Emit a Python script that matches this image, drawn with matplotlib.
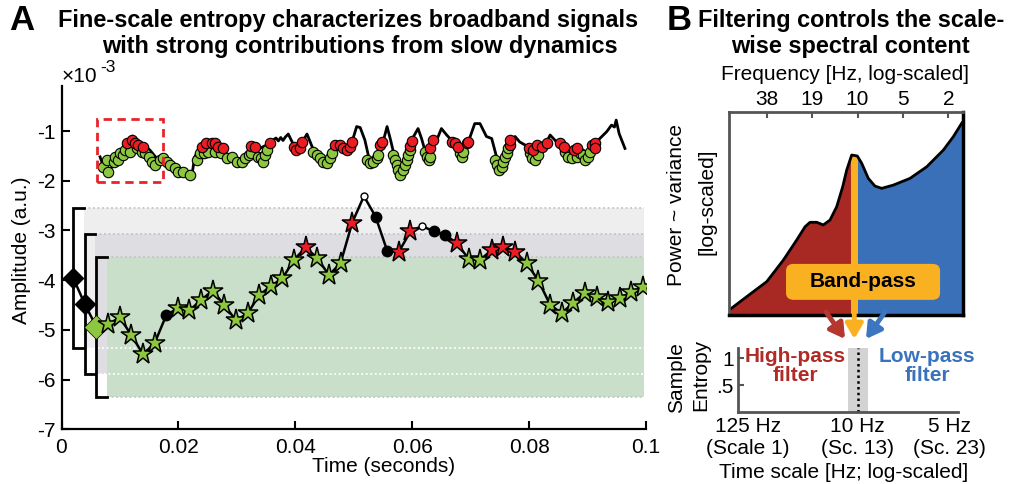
import numpy as np
import matplotlib.pyplot as plt
from matplotlib.patches import Rectangle, FancyBboxPatch, FancyArrowPatch

plt.rcParams['font.family'] = ['Liberation Sans', 'DejaVu Sans']
plt.rcParams['axes.unicode_minus'] = False

W, H = 1016, 484


def fp(x, y):
    # pixel (from top-left) -> figure fraction
    return x / W, 1 - y / H


# ---- Panel A: long trace (x10^-3) ----
top_t = [0.0066, 0.0077, 0.0094, 0.0112, 0.0122, 0.0129, 0.0140, 0.0151, 0.0163, 0.0174,
         0.0186, 0.0197, 0.0208, 0.0223, 0.0228, 0.0237, 0.0248, 0.0266, 0.0277, 0.0288,
         0.0305, 0.0323, 0.0334, 0.0351, 0.0362, 0.0367, 0.0371, 0.0375, 0.0379, 0.0383,
         0.0388, 0.0397, 0.0408, 0.0414, 0.0420, 0.0431, 0.0439, 0.0454, 0.0465, 0.0482,
         0.0497, 0.0505, 0.0511, 0.0519, 0.0528, 0.0542, 0.0551, 0.0557, 0.0563, 0.0571,
         0.0579, 0.0591, 0.0599, 0.0610, 0.0616, 0.0625, 0.0633, 0.0642, 0.0650, 0.0659,
         0.0670, 0.0685, 0.0696, 0.0707, 0.0716, 0.0727, 0.0736, 0.0745, 0.0750, 0.0759,
         0.0767, 0.0776, 0.0784, 0.0793, 0.0807, 0.0819, 0.0830, 0.0836, 0.0847, 0.0864,
         0.0881, 0.0899, 0.0913, 0.0921, 0.0933, 0.0941, 0.0946, 0.0949, 0.0954, 0.0964]
top_y = [-1.52, -1.89, -1.58, -1.35, -1.10, -1.25, -1.28, -1.38, -1.55, -1.52,
         -1.62, -1.72, -1.82, -1.89, -1.52, -1.32, -1.25, -1.28, -1.38, -1.55,
         -1.62, -1.55, -1.38, -1.28, -1.18, -1.14, -1.20, -1.13, -1.19, -1.12,
         -1.06, -1.28, -1.35, -1.18, -1.06, -1.38, -1.52, -1.65, -1.28, -1.35,
         -1.22, -0.91, -0.93, -1.18, -1.65, -1.48, -1.18, -0.91, -1.18, -1.58,
         -1.95, -1.58, -1.18, -0.95, -1.15, -1.52, -1.35, -1.18, -0.95, -1.08,
         -1.22, -1.48, -1.22, -0.85, -0.85, -1.11, -1.15, -1.55, -1.78, -1.55,
         -1.18, -1.11, -1.22, -1.28, -1.58, -1.32, -1.22, -1.08, -1.22, -1.52,
         -1.45, -1.58, -1.28, -1.15, -1.01, -0.88, -0.92, -0.78, -1.05, -1.35]

green_t = [0.00715, 0.0080, 0.0077, 0.0089, 0.0092, 0.0097, 0.0100, 0.0106, 0.0109, 0.0117,
           0.0129, 0.0137, 0.0143, 0.0149, 0.0154, 0.0160, 0.0169, 0.0174, 0.0180, 0.0186,
           0.0194, 0.0200, 0.0208, 0.0220, 0.0231, 0.0237, 0.0243, 0.0250, 0.0263, 0.0273,
           0.0283, 0.0291, 0.0300, 0.0308, 0.0314, 0.0320, 0.0325, 0.0337, 0.0342, 0.0345,
           0.0348, 0.0351, 0.0431, 0.0437, 0.0442, 0.0448, 0.0454, 0.0459, 0.0462, 0.0522,
           0.0528, 0.0533, 0.0539, 0.0542, 0.0568, 0.0571, 0.0574, 0.0576, 0.0579, 0.0585,
           0.0588, 0.0591, 0.0593, 0.0596, 0.0622, 0.0625, 0.0628, 0.0630, 0.0682, 0.0685,
           0.0687, 0.0742, 0.0745, 0.0748, 0.0753, 0.0756, 0.0759, 0.0762, 0.0764, 0.0802,
           0.0805, 0.0810, 0.0816, 0.0862, 0.0867, 0.0873, 0.0882, 0.0887, 0.0893, 0.0896,
           0.0901, 0.0904]
green_y = [-1.72, -1.82, -1.58, -1.62, -1.52, -1.58, -1.45, -1.48, -1.38, -1.42,
           -1.35, -1.42, -1.45, -1.52, -1.62, -1.68, -1.58, -1.55, -1.62, -1.68,
           -1.75, -1.82, -1.82, -1.89, -1.58, -1.45, -1.45, -1.42, -1.42, -1.45,
           -1.55, -1.52, -1.62, -1.62, -1.55, -1.48, -1.45, -1.52, -1.55, -1.62,
           -1.48, -1.38, -1.42, -1.48, -1.55, -1.62, -1.65, -1.55, -1.45, -1.58,
           -1.65, -1.62, -1.55, -1.48, -1.48, -1.58, -1.68, -1.78, -1.89, -1.78,
           -1.68, -1.58, -1.48, -1.38, -1.42, -1.52, -1.58, -1.52, -1.45, -1.52,
           -1.42, -1.58, -1.68, -1.78, -1.72, -1.62, -1.52, -1.45, -1.35, -1.45,
           -1.55, -1.58, -1.48, -1.42, -1.52, -1.55, -1.52, -1.45, -1.48, -1.58,
           -1.52, -1.42]
red_t = [0.0112, 0.0120, 0.0126, 0.0131, 0.0140, 0.0240, 0.0248, 0.0257, 0.0263, 0.0268,
         0.0277, 0.0325, 0.0331, 0.0357, 0.0397, 0.0402, 0.0408, 0.0411, 0.0468, 0.0476,
         0.0482, 0.0488, 0.0494, 0.0497, 0.0545, 0.0548, 0.0597, 0.0600, 0.0630, 0.0635,
         0.0668, 0.0673, 0.0679, 0.0693, 0.0696, 0.0767, 0.0767, 0.0799, 0.0807, 0.0813,
         0.0822, 0.0830, 0.0853, 0.0859, 0.0876, 0.0882, 0.0907, 0.0913, 0.0913]
red_y = [-1.25, -1.18, -1.25, -1.28, -1.32, -1.32, -1.25, -1.25, -1.25, -1.32,
         -1.35, -1.30, -1.32, -1.25, -1.32, -1.38, -1.35, -1.22, -1.28, -1.28,
         -1.35, -1.38, -1.32, -1.22, -1.28, -1.22, -1.30, -1.20, -1.35, -1.19,
         -1.22, -1.25, -1.32, -1.25, -1.22, -1.28, -1.18, -1.35, -1.38, -1.28,
         -1.32, -1.25, -1.25, -1.32, -1.38, -1.35, -1.28, -1.25, -1.35]

# ---- Panel A: zoomed samples ----
dt = 0.00199
low_y = [-3.95, -4.48, -4.94, -4.89, -4.75, -5.10, -5.49, -5.27, -4.71, -4.56,
         -4.61, -4.40, -4.21, -4.50, -4.81, -4.67, -4.30, -4.12, -3.96, -3.59,
         -3.34, -3.56, -3.90, -3.65, -2.84, -2.31, -2.72, -3.41, -3.43, -3.02,
         -2.91, -3.02, -3.09, -3.26, -3.57, -3.59, -3.39, -3.33, -3.43, -3.66,
         -4.01, -4.49, -4.67, -4.45, -4.26, -4.34, -4.43, -4.36, -4.24, -4.13]
low_kind = list('DDGgggggkggggggggggg' + 'rgggrokkrrokkrggrrr' + 'ggggggggggg')
low_t = dt * np.arange(1, len(low_y) + 1)
tol_r = 1.41

# ---- Panel B: spectrum ----
spec_x = [0.176, 0.559, 1.0, 1.366, 1.661, 1.844, 1.954, 2.101, 2.247, 2.394, 2.542, 2.674,
          2.762, 2.872, 2.996, 3.093, 3.238, 3.385, 3.533, 3.789, 4.156, 4.524, 4.890, 5.110, 5.317]
spec_y = [0.025, 0.090, 0.164, 0.270, 0.369, 0.434, 0.456, 0.456, 0.443, 0.467, 0.533, 0.631,
          0.713, 0.787, 0.782, 0.746, 0.672, 0.634, 0.623, 0.639, 0.672, 0.729, 0.811, 0.877, 0.951]
freq_labels = ['38', '19', '10', '5', '2']
band_lo, band_hi = 2.857, 3.004
scale_ticks = [1, 13, 23]
scale_labels = ['125 Hz\n(Scale 1)', '10 Hz\n(Sc. 13)', '5 Hz\n(Sc. 23)']

GREEN = '#8dc63f'
RED = '#ec1c24'
FS = 15
TFS = 16.9

fig = plt.figure(figsize=(W / 100, H / 100), dpi=100)

# ================= Panel A =================
ax = fig.add_axes([61.5 / W, 1 - 429.3 / H, 584.5 / W, 343 / H])
ax.set_xlim(0, 0.1)
ax.set_ylim(-7, -0.1)
for s in ['top', 'right']:
    ax.spines[s].set_visible(False)
for s in ['left', 'bottom']:
    ax.spines[s].set_linewidth(1.6)
ax.tick_params(direction='in', length=6, width=1.5, labelsize=FS)
ax.tick_params(axis='x', pad=6)
ax.tick_params(axis='y', pad=4)
ax.set_xticks([0, 0.02, 0.04, 0.06, 0.08, 0.1])
ax.set_xticklabels(['0', '0.02', '0.04', '0.06', '0.08', '0.1'])
ax.set_yticks(range(-7, 0))
ax.set_yticklabels([str(v) for v in range(-7, 0)])

# tolerance bands and brackets
band_cols = ['#eeeeef', '#dedee2', '#c9dfca']
tick_len = 0.0018
x_end = 0.0997
for i in range(3):
    c, t0 = low_y[i], low_t[i]
    ax.fill_between([t0 + tick_len, x_end], c - tol_r, c + tol_r, color=band_cols[i], lw=0, zorder=0)
for i in range(3):
    c, t0 = low_y[i], low_t[i]
    ax.plot([t0 + tick_len, x_end], [c + tol_r] * 2, ls=(0, (1, 1.5)), color='#c4c4c4', lw=1.3, zorder=1)
    ax.plot([t0 + tick_len, x_end], [c - tol_r] * 2, ls=(0, (1, 1.5)),
            color='#c4c4c4' if i == 2 else 'white', lw=1.3, zorder=1)
    ax.plot([t0 + tick_len, t0, t0, t0 + tick_len], [c + tol_r, c + tol_r, c - tol_r, c - tol_r],
            color='k', lw=2, solid_joinstyle='miter', zorder=2)

# long trace
ax.plot(top_t, top_y, color='k', lw=2, zorder=3)
ax.plot(green_t, green_y, 'o', ms=7.5, mfc=GREEN, mec='k', mew=0.8, zorder=4)
ax.plot(red_t, red_y, 'o', ms=7.5, mfc=RED, mec='k', mew=0.8, zorder=5)
ax.add_patch(Rectangle((0.0061, -2.02), 0.0113, 1.27, fill=False, ec='#e8242b',
                       ls=(0, (3, 2)), lw=2, zorder=6))

# zoomed samples
ax.plot(low_t, low_y, color='k', lw=1.8, zorder=3)
kind = np.array(low_kind)
ly = np.array(low_y)
styles = {
    'D': dict(marker='D', ms=10, mfc='k', mec='k', mew=1),
    'G': dict(marker='D', ms=12, mfc=GREEN, mec='k', mew=0.5),
    'g': dict(marker='*', ms=15.5, mfc=GREEN, mec='k', mew=1.1),
    'r': dict(marker='*', ms=15.5, mfc=RED, mec='k', mew=1.1),
    'k': dict(marker='o', ms=7.5, mfc='k', mec='k', mew=1),
    'o': dict(marker='o', ms=5, mfc='white', mec='k', mew=1),
}
for key, st in styles.items():
    m = kind == key
    ax.plot(low_t[m], ly[m], ls='none', zorder=7, **st)

fig.text(*fp(79, 77), '\u00d710', fontsize=FS, ha='center', va='center')
fig.text(*fp(108, 68), '-3', fontsize=12.5, ha='center', va='center')
fig.text(*fp(22, 250), 'Amplitude (a.u.)', fontsize=FS, rotation=90, ha='center', va='center')
fig.text(*fp(384, 466), 'Time (seconds)', fontsize=FS, ha='center', va='center')

fig.text(*fp(22, 21), 'A', fontsize=25, fontweight='bold', ha='center', va='center')
fig.text(*fp(348, 20), 'Fine-scale entropy characterizes broadband signals',
         fontsize=TFS, fontweight='bold', ha='center', va='center')
fig.text(*fp(360, 46), 'with strong contributions from slow dynamics',
         fontsize=TFS, fontweight='bold', ha='center', va='center')

# ================= Panel B: spectrum =================
bx = fig.add_axes([729.3 / W, 1 - 315 / H, 233.4 / W, 203.3 / H])
bx.set_xlim(spec_x[0], spec_x[-1])
bx.set_ylim(0, 1)
bx.spines['top'].set_color('#555555')
bx.spines['left'].set_color('#555555')
for s in ['top', 'left']:
    bx.spines[s].set_linewidth(2)
for s in ['right', 'bottom']:
    bx.spines[s].set_linewidth(2.5)
bx.xaxis.tick_top()
bx.set_xticks(range(1, len(freq_labels) + 1))
bx.set_xticklabels(freq_labels)
bx.tick_params(axis='x', direction='in', length=4, width=1.5, color='#555555', labelsize=FS, pad=2)
bx.set_yticks([])

parts = [(spec_x[0], band_lo, '#a82824'), (band_lo, band_hi, '#f9b122'), (band_hi, spec_x[-1], '#3a70b8')]
for x0, x1, col in parts:
    f = bx.fill_between(spec_x, 0, spec_y, color=col, lw=0)
    f.set_clip_path(Rectangle((x0, 0), x1 - x0, 1, transform=bx.transData))
bx.plot(spec_x, spec_y, color='k', lw=2, solid_capstyle='butt')

bx.add_patch(FancyBboxPatch((0.256, 0.088), 0.634, 0.150, transform=bx.transAxes,
                            boxstyle='round,pad=0.01,rounding_size=0.03',
                            fc='#f9b122', ec='#f9b122', zorder=5))
bx.text(0.573, 0.164, 'Band-pass', transform=bx.transAxes, fontsize=15, fontweight='bold',
        ha='center', va='center', zorder=6)

fig.text(*fp(845, 75), 'Frequency [Hz, log-scaled]', fontsize=FS, ha='center', va='center')
fig.text(*fp(677, 205), 'Power ~ variance', fontsize=FS, rotation=90, ha='center', va='center')
fig.text(*fp(707, 202), '[log-scaled]', fontsize=FS, rotation=90, ha='center', va='center')

fig.text(*fp(679, 21), 'B', fontsize=25, fontweight='bold', ha='center', va='center')
fig.text(*fp(851, 20), 'Filtering controls the scale-', fontsize=TFS, fontweight='bold',
         ha='center', va='center')
fig.text(*fp(850, 46), 'wise spectral content', fontsize=TFS, fontweight='bold',
         ha='center', va='center')

# arrows
for (x0, y0, x1, y1, col) in [(826, 312, 845, 339, '#b5372d'),
                              (854.3, 312, 854.3, 339, '#f9b122'),
                              (885, 312, 866, 339, '#3c76c0')]:
    fig.add_artist(FancyArrowPatch(fp(x0, y0), fp(x1, y1), transform=fig.transFigure,
                                   arrowstyle='-|>,head_length=0.55,head_width=0.32',
                                   mutation_scale=16, lw=3.5, color=col,
                                   shrinkA=0, shrinkB=0))

# ================= Panel B: sample entropy =================
cx = fig.add_axes([737.7 / W, 1 - 411.7 / H, 220.6 / W, 63.4 / H])
cx.set_xlim(-0.09, 24)
cx.set_ylim(0, 1.19)
for s in ['top', 'right']:
    cx.spines[s].set_visible(False)
for s in ['left', 'bottom']:
    cx.spines[s].set_color('#555555')
    cx.spines[s].set_linewidth(2)
cx.axvspan(11.97, 14.09, color='#d3d3d3', lw=0)
cx.axvline(13, color='k', ls=(0, (1, 1.3)), lw=1.8)
cx.set_yticks([0.5, 1])
cx.set_yticklabels(['.5', '1'])
cx.tick_params(axis='y', direction='in', length=4, width=1.5, color='#555555', labelsize=FS, pad=3)
cx.set_xticks(scale_ticks)
cx.set_xticklabels(scale_labels)
cx.tick_params(axis='x', length=0, labelsize=FS, pad=4)
for lab in cx.get_xticklabels():
    lab.set_linespacing(1.15)

fig.text(*fp(795, 366), 'High-pass\nfilter', fontsize=FS, fontweight='bold', color='#b02b26',
         ha='center', va='center', linespacing=1.05)
fig.text(*fp(927, 366), 'Low-pass\nfilter', fontsize=FS, fontweight='bold', color='#3a73bb',
         ha='center', va='center', linespacing=1.05)
fig.text(*fp(677, 378), 'Sample', fontsize=FS, rotation=90, ha='center', va='center')
fig.text(*fp(701, 375), 'Entropy', fontsize=FS, rotation=90, ha='center', va='center')
fig.text(*fp(844, 473), 'Time scale [Hz; log-scaled]', fontsize=FS, ha='center', va='center')

fig.savefig('out.png', dpi=100)
